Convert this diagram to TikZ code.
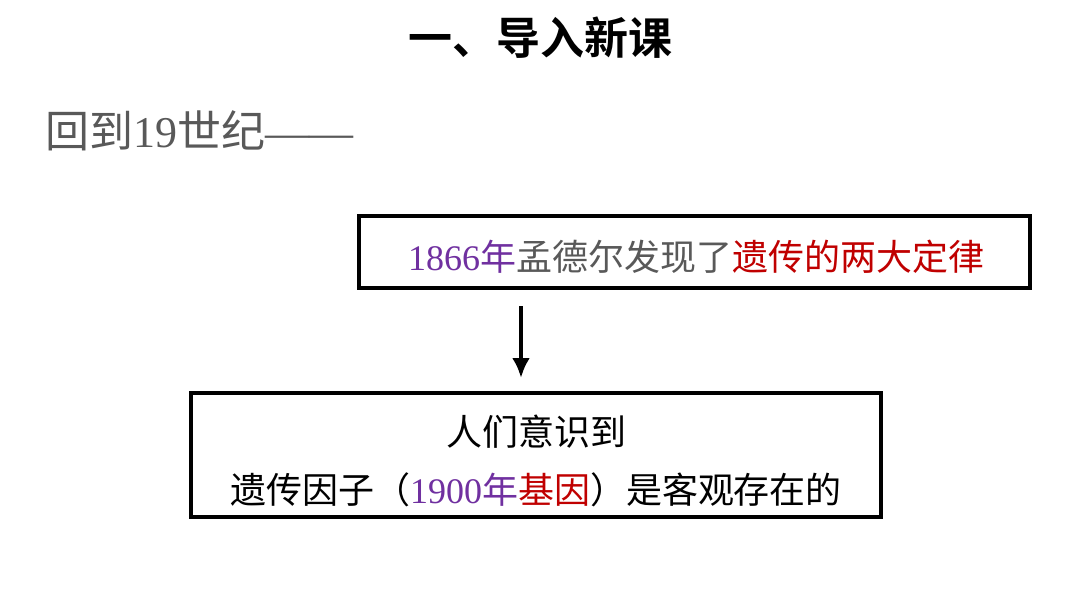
\documentclass[tikz,border=0pt]{standalone}
\usepackage{fontspec}
\setmainfont{Liberation Serif}
\newfontfamily\cjk{Noto Sans CJK SC}
\newfontfamily\cjkb{Noto Sans CJK SC Bold}
\usetikzlibrary{arrows.meta,positioning}
\definecolor{txtgray}{HTML}{595959}
\definecolor{yrpurple}{HTML}{7030A0}
\definecolor{keyred}{HTML}{C00000}

\begin{document}
\begin{tikzpicture}[>=Latex,x=1pt,y=-1pt,
  box/.style={draw,line width=3.2pt,inner sep=0pt},
  arr/.style={->,line width=4.6pt,>={Latex[length=20pt,width=18pt]}}]
\useasboundingbox[fill=white] (0,0) rectangle (1080,608);
\node[font=\fontsize{44}{48}\cjkb] (title) at (540,38) {一、导入新课};
\node[anchor=west,text=txtgray,font=\fontsize{44}{48}\selectfont] (era) at (42,131) {{\cjk 回到}19{\cjk 世纪}——};
\node[box,minimum width=671pt,minimum height=72pt] (law) at (694.5,252) {};
\node[font=\fontsize{36}{40}\selectfont] (lawtxt) at (696,257) {\textcolor{yrpurple}{1866{\cjk 年}}\textcolor{txtgray}{\cjk 孟德尔发现了}\textcolor{keyred}{\cjk 遗传的两大定律}};
\node[box,minimum width=690pt,minimum height=124pt] (gene) at (536,455) {};
\node[font=\fontsize{36}{40}\cjk] (l1) at (536,432) {人们意识到};
\node[font=\fontsize{36}{40}\selectfont] (l2) at (536,490) {{\cjk 遗传因子（}\textcolor{yrpurple}{1900{\cjk 年}}\textcolor{keyred}{\cjk 基因}{\cjk ）是客观存在的}};
\coordinate (a1) at (521,306);\coordinate (a2) at (521,378);
\draw[arr] (a1)--(a2);
\end{tikzpicture}
\end{document}
